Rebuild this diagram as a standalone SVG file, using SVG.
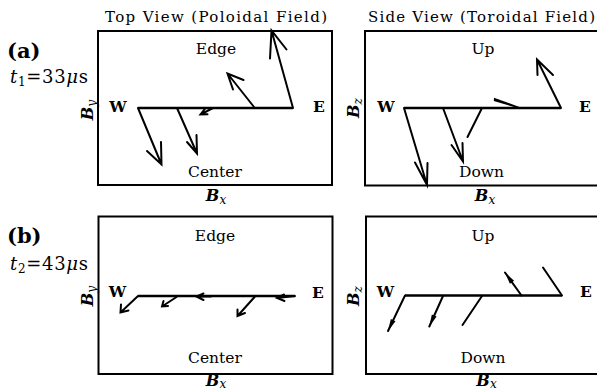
<svg xmlns="http://www.w3.org/2000/svg" width="597" height="391" viewBox="0 0 597 391">
<style>
text{font-family:"DejaVu Serif","Liberation Serif",serif;fill:#000}
.frame{fill:none;stroke:#000;stroke-width:2}
.base{fill:none;stroke:#000;stroke-width:2.6}
.vec{fill:none;stroke:#000;stroke-width:2;stroke-linecap:round;stroke-linejoin:miter}
.lbl{font-size:15.5px;text-anchor:middle}
.bold{font-weight:bold}
.title{font-size:15px}
.panel{font-size:21px;font-weight:bold}
.time{font-size:18px}
.ax{font-size:16px;text-anchor:middle}
.it{font-style:italic;font-weight:bold}
.sub{font-size:12px;font-style:italic}
</style>
<defs>
<marker id="narrow" viewBox="-13 -4 14 8" refX="0" refY="0" markerWidth="14" markerHeight="8" markerUnits="userSpaceOnUse" orient="auto">
<path d="M0,0 L-12,-2.6 L-12,2.6 Z" fill="#000"/>
</marker>
</defs>

<g id="headings">
<text class="title" x="105" y="22" textLength="222" lengthAdjust="spacing">Top View (Poloidal Field)</text>
<text class="title" x="368" y="22" textLength="227" lengthAdjust="spacing">Side View (Toroidal Field)</text>
<text class="panel" x="7" y="58">(a)</text>
<text class="time" x="10" y="83" textLength="78" lengthAdjust="spacing"><tspan font-style="italic">t</tspan><tspan font-size="12" dy="3">1</tspan><tspan dy="-3">=33</tspan><tspan font-style="italic">μ</tspan>s</text>
<text class="panel" x="7" y="243">(b)</text>
<text class="time" x="10" y="270" textLength="78" lengthAdjust="spacing"><tspan font-style="italic">t</tspan><tspan font-size="12" dy="3">2</tspan><tspan dy="-3">=43</tspan><tspan font-style="italic">μ</tspan>s</text>
</g>

<g id="panel-a-top">
<rect class="frame" x="98" y="31" width="234" height="154"/>
<line class="base" x1="138" y1="108" x2="293" y2="108"/>
<text class="lbl" x="216" y="54">Edge</text>
<text class="lbl" x="215" y="176.5">Center</text>
<text class="lbl bold" x="118" y="112">W</text>
<text class="lbl bold" x="319" y="112">E</text>
<text class="ax" transform="translate(93,110) rotate(-90)"><tspan class="it">B</tspan><tspan class="sub" dy="3">y</tspan></text>
<text class="ax" x="216" y="201"><tspan class="it">B</tspan><tspan class="sub" dy="3">x</tspan></text>
</g>

<g id="panel-a-side">
<path class="frame" d="M600,31 H365 V185.5 H600"/>
<line class="base" x1="404" y1="108" x2="561" y2="108"/>
<text class="lbl" x="483" y="54">Up</text>
<text class="lbl" x="481.5" y="176.5">Down</text>
<text class="lbl bold" x="386" y="112">W</text>
<text class="lbl bold" x="585" y="112">E</text>
<text class="ax" transform="translate(359,108) rotate(-90)"><tspan class="it">B</tspan><tspan class="sub" dy="3">z</tspan></text>
<text class="ax" x="485" y="201"><tspan class="it">B</tspan><tspan class="sub" dy="3">x</tspan></text>
</g>

<g id="panel-b-top">
<rect class="frame" x="98.5" y="216.5" width="234" height="157.5"/>
<line class="base" x1="138" y1="296" x2="295" y2="296"/>
<text class="lbl" x="215" y="241">Edge</text>
<text class="lbl" x="215" y="363">Center</text>
<text class="lbl bold" x="117.5" y="296.5">W</text>
<text class="lbl bold" x="318" y="297.5">E</text>
<text class="ax" transform="translate(93,296) rotate(-90)"><tspan class="it">B</tspan><tspan class="sub" dy="3">y</tspan></text>
<text class="ax" x="216" y="385.5"><tspan class="it">B</tspan><tspan class="sub" dy="2">x</tspan></text>
</g>

<g id="panel-b-side">
<path class="frame" d="M600,216.5 H366 V374 H600"/>
<line class="base" x1="405" y1="295.5" x2="562" y2="295.5"/>
<text class="lbl" x="483" y="241">Up</text>
<text class="lbl" x="483" y="363">Down</text>
<text class="lbl bold" x="385.5" y="297">W</text>
<text class="lbl bold" x="586" y="297">E</text>
<text class="ax" transform="translate(359,296) rotate(-90)"><tspan class="it">B</tspan><tspan class="sub" dy="3">z</tspan></text>
<text class="ax" x="486.5" y="385.5"><tspan class="it">B</tspan><tspan class="sub" dy="2">x</tspan></text>
</g>

<g id="connectors">
<!-- (a) top view -->
<path class="vec" d="M138,108 L161.5,164.5 M147,151 L161.5,164.5 L161,142"/>
<path class="vec" d="M177,108 L197,153.5 M187,142 L197,153.5 L196.5,135"/>
<path class="vec" d="M213,108 L200.5,114.5 M207.5,114.2 L200.5,114.5 L204.8,109"/>
<path class="vec" d="M254,107 L227.5,73.5 M233,89.5 L227.5,73.5 L243.5,80"/>
<path class="vec" d="M293,108 L271.5,30.5 M270,58.5 L271.5,30.5 L286.5,49.5"/>
<!-- (a) side view -->
<path class="vec" d="M404,108 L427,185 M415,162.5 L427,185 L427.5,163"/>
<path class="vec" d="M443,108 L463,161.5 M451.5,145 L463,161.5 L462.5,143"/>
<path class="vec" d="M482,108 L467.5,137" stroke-width="2.3"/>
<polygon points="494,97.8 493.8,101 519,108.5 519.5,107" fill="#000"/>
<path class="vec" d="M561,108 L537,59.5 M537.5,75 L537,59.5 L553,75"/>
<!-- (b) top view -->
<path class="vec" d="M138,296 L120.5,312.5 M121,304.5 L120.5,312.5 L128.5,310.5"/>
<path class="vec" d="M176.5,297 L162,306.5 M163.5,301 L162,306.5 L168,306"/>
<path class="vec" d="M211,296.5 L196.5,296.5 M203.5,293.5 L196.5,296.5 L203.5,300" stroke-width="2.4"/>
<path class="vec" d="M255,296.5 L237.5,316 M237.5,309.5 L237.5,316 L245,313"/>
<path class="vec" d="M295,296 L277,298 M284,294.5 L277,298 L284.5,301" stroke-width="2.4"/>
<!-- (b) side view -->
<path class="vec" d="M405,295.5 L388,331" marker-end="url(#narrow)"/>
<path class="vec" d="M443,296 L429.3,326.5" marker-end="url(#narrow)"/>
<path class="vec" d="M482,296 L462.5,325"/>
<path class="vec" d="M521.5,295.5 L505,272.5" marker-end="url(#narrow)"/>
<path class="vec" d="M562,295.5 L543,267.5"/>
</g>
</svg>
